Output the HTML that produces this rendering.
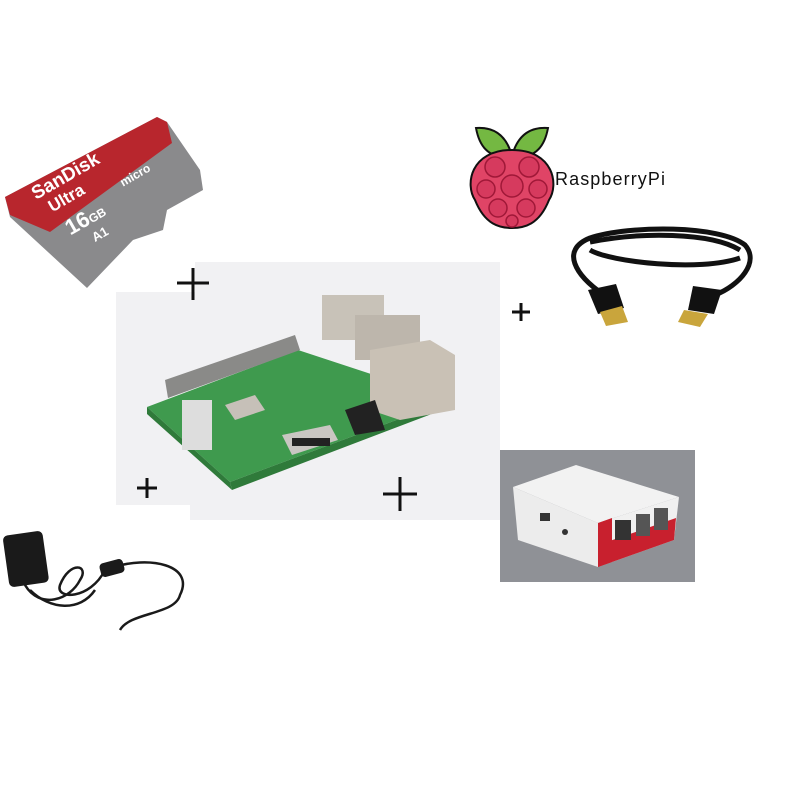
<!DOCTYPE html><html><head><style>body{margin:0;background:#fff}svg{display:block}</style></head><body>
<svg width="800" height="800" viewBox="0 0 800 800" xmlns="http://www.w3.org/2000/svg">
<rect width="800" height="800" fill="#fff"/>
<!-- pi background -->
<polygon points="116,292 195,292 195,262 500,262 500,520 190,520 190,505 116,505" fill="#f1f1f3"/>
<!-- board -->
<polygon points="147,407 298,350 450,400 230,482" fill="#3f9a4e"/>
<polygon points="147,407 230,482 232,490 147,414" fill="#2f7a3a"/>
<polygon points="230,482 450,400 450,407 232,490" fill="#2f7a3a"/>
<polygon points="165,380 295,335 300,350 168,398" fill="#8a8a88"/>
<rect x="322" y="295" width="62" height="45" fill="#c8c2b8"/>
<rect x="355" y="315" width="65" height="45" fill="#bdb6ac"/>
<polygon points="370,350 430,340 455,355 455,410 400,420 370,410" fill="#c9c1b5"/>
<polygon points="225,405 255,395 265,410 235,420" fill="#c6c0b8"/>
<polygon points="282,435 330,425 338,440 292,455" fill="#c9c6c2"/>
<rect x="292" y="438" width="38" height="8" fill="#222"/>
<polygon points="345,410 375,400 385,430 355,435" fill="#222"/>
<rect x="182" y="400" width="30" height="50" fill="#ddd"/>
<!-- plus signs -->
<g stroke="#111" stroke-width="3"><path d="M177,283h32M193,268v32"/><path d="M512,312h18M521,303v18"/><path d="M137,488h20M147,478v20"/><path d="M383,494h34M400,477v34"/></g>
<!-- SD card -->
<polygon points="5,197 157,117 167,122 200,170 203,190 167,210 163,230 133,240 87,288 10,217" fill="#8a8a8c"/>
<polygon points="5,197 157,117 167,122 172,143 50,232 10,215" fill="#b8262d"/>
<g transform="translate(36,200) rotate(-30)" font-family="Liberation Sans,sans-serif" fill="#fff" font-weight="bold">
<text x="0" y="0" font-size="19">SanDisk</text>
<text x="8" y="19" font-size="17">Ultra</text>
<text x="12" y="48" font-size="22">16<tspan font-size="12">GB</tspan></text>
<text x="30" y="66" font-size="13">A1</text>
<text x="82" y="32" font-size="12">micro</text>
</g>
<!-- raspberry logo -->
<path d="M476,128 q28,-2 36,28 q-30,5 -36,-28z M548,128 q-28,-2 -36,28 q30,5 36,-28z" fill="#74b842" stroke="#111" stroke-width="2"/>
<path d="M512,150 C470,150 465,185 475,200 C485,225 500,228 512,228 C524,228 539,225 549,200 C559,185 554,150 512,150z" fill="#e04466" stroke="#111" stroke-width="2"/>
<g fill="#d63a5e" stroke="#a01838" stroke-width="1.5">
<circle cx="495" cy="167" r="10"/><circle cx="529" cy="167" r="10"/>
<circle cx="486" cy="189" r="9"/><circle cx="512" cy="186" r="11"/><circle cx="538" cy="189" r="9"/>
<circle cx="498" cy="208" r="9"/><circle cx="526" cy="208" r="9"/><circle cx="512" cy="221" r="6"/>
</g>
<text x="555" y="185" font-family="Liberation Sans,sans-serif" font-size="18" textLength="110" fill="#111">RaspberryPi</text>
<!-- HDMI cable -->
<g fill="none" stroke="#111" stroke-width="5">
<path d="M604,295 C575,275 560,250 590,238 C630,225 720,225 745,245 C760,262 740,285 715,295"/>
<path d="M590,250 C610,262 700,272 740,258"/>
<path d="M590,242 C640,232 710,232 740,250"/>
</g>
<polygon points="588,290 616,284 624,308 598,314" fill="#111"/>
<polygon points="600,312 622,306 628,322 606,326" fill="#c9a53c"/>
<polygon points="693,286 722,290 714,314 688,310" fill="#111"/>
<polygon points="684,310 708,314 700,327 678,322" fill="#c9a53c"/>
<!-- case -->
<rect x="500" y="450" width="195" height="132" fill="#8f9196"/>
<polygon points="513,487 576,465 679,497 598,523" fill="#f2f2f2"/>
<polygon points="513,487 598,523 598,567 518,540" fill="#ececec"/>
<polygon points="598,523 679,497 674,540 598,567" fill="#f0f0f0"/>
<polygon points="598,545 676,518 674,540 598,567" fill="#c8202e"/>
<polygon points="598,523 612,518 612,562 598,567" fill="#c8202e"/>
<rect x="615" y="520" width="16" height="20" fill="#333"/>
<rect x="636" y="514" width="14" height="22" fill="#555"/>
<rect x="654" y="508" width="14" height="22" fill="#555"/>
<rect x="540" y="513" width="10" height="8" fill="#333"/>
<circle cx="565" cy="532" r="3" fill="#333"/>
<!-- power adapter -->
<rect x="6" y="533" width="40" height="52" rx="5" fill="#1a1a1a" transform="rotate(-8 26 560)"/>
<g fill="none" stroke="#1a1a1a" stroke-width="2.5">
<path d="M25,585 C40,610 70,600 80,580 C90,565 70,560 60,585 C55,600 90,600 105,570"/>
<path d="M30,590 C50,610 80,612 95,590"/>
<path d="M110,568 C150,555 195,565 180,595 C175,615 130,612 120,630"/>
</g>
<rect x="100" y="561" width="24" height="14" rx="4" fill="#1a1a1a" transform="rotate(-15 112 568)"/>
</svg>
</body></html>
